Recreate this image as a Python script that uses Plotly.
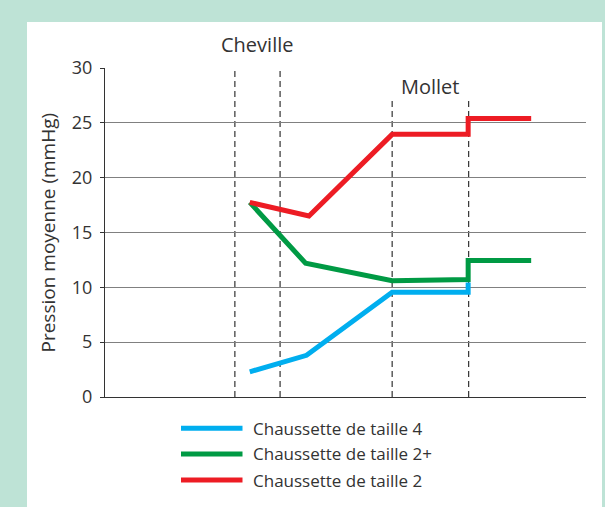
import plotly.graph_objects as go

# ---- data ----
series_names = ["Chaussette de taille 4", "Chaussette de taille 2+", "Chaussette de taille 2"]
series_colors = ["#00AEEF", "#009A44", "#ED1C24"]

blue_x = [3.01, 4.19, 5.97, 7.55, 7.55]
blue_y = [2.3, 3.8, 9.55, 9.55, 10.45]

green_x = [3.01, 4.17, 5.97, 7.55, 7.55, 8.86]
green_y = [17.75, 12.2, 10.6, 10.72, 12.45, 12.45]

red_x = [3.01, 4.24, 5.97, 7.55, 7.55, 8.86]
red_y = [17.75, 16.5, 23.95, 23.95, 25.4, 25.4]

zone_labels = ["Cheville", "Mollet"]
zone_bounds = [(2.70, 3.64), (5.97, 7.56)]
zone_tops = [30, 27.1]

y_ticks = [0, 5, 10, 15, 20, 25, 30]

# ---- layout geometry (pixels) ----
W, H = 605, 507
L, R, T, B = 105, 19, 68, 110
pw, ph = W - L - R, H - T - B

def px_x(p):
    return (p - L) / pw

def px_y(p):
    return (H - B - p) / ph

FONT = "Open Sans, Noto Sans, DejaVu Sans, sans-serif"
TXT = "#333333"

fig = go.Figure()
for xs, ys, name, col in zip([blue_x, green_x, red_x], [blue_y, green_y, red_y],
                             series_names, series_colors):
    fig.add_trace(go.Scatter(x=xs, y=ys, mode="lines", name=name,
                             line=dict(color=col, width=5), showlegend=False))

shapes = []
# white panel over green frame
shapes.append(dict(type="rect", xref="paper", yref="paper",
                   x0=px_x(27), x1=px_x(602), y0=px_y(H + 20), y1=px_y(22),
                   fillcolor="white", line=dict(width=0), layer="below"))
# dashed zone lines
for (a, b), top in zip(zone_bounds, zone_tops):
    for xv in (a, b):
        shapes.append(dict(type="line", xref="x", yref="y", x0=xv, x1=xv, y0=0, y1=top,
                           line=dict(color="#333333", width=1.2, dash="6px,4px"), layer="below"))
# legend lines
leg_y = [428.3, 454, 480]
for yy, col in zip(leg_y, series_colors):
    shapes.append(dict(type="line", xref="paper", yref="paper",
                       x0=px_x(181), x1=px_x(242.5), y0=px_y(yy), y1=px_y(yy),
                       line=dict(color=col, width=5)))

annotations = []
# zone labels
annotations.append(dict(text=zone_labels[0], xref="x", yref="paper",
                        x=sum(zone_bounds[0]) / 2, y=px_y(44), xanchor="center", yanchor="middle",
                        showarrow=False, font=dict(family=FONT, size=20, color=TXT)))
annotations.append(dict(text=zone_labels[1], xref="x", yref="y",
                        x=sum(zone_bounds[1]) / 2, y=28.3, xanchor="center", yanchor="middle",
                        showarrow=False, font=dict(family=FONT, size=20, color=TXT)))
# y title
annotations.append(dict(text="Pression moyenne (mmHg)", xref="paper", yref="paper",
                        x=px_x(47), y=0.5, textangle=-90, xanchor="center", yanchor="middle",
                        showarrow=False, font=dict(family=FONT, size=19, color=TXT)))
# legend texts
for yy, name in zip(leg_y, series_names):
    annotations.append(dict(text=name, xref="paper", yref="paper",
                            x=px_x(251), y=px_y(yy), xanchor="left", yanchor="middle",
                            showarrow=False, font=dict(family=FONT, size=17, color=TXT)))

fig.update_layout(
    width=W, height=H,
    margin=dict(l=L, r=R, t=T, b=B, pad=0),
    paper_bgcolor="#BEE3D6",
    plot_bgcolor="rgba(0,0,0,0)",
    shapes=shapes,
    annotations=annotations,
    showlegend=False,
    xaxis=dict(range=[0, 10], showgrid=False, zeroline=False, showticklabels=False,
               ticks="", showline=True, linecolor="#333333", linewidth=1, fixedrange=True),
    yaxis=dict(range=[0, 30], tickvals=y_ticks, showgrid=True, gridcolor="#808080", gridwidth=1,
               zeroline=False, showline=True, linecolor="#333333", linewidth=1,
               ticks="outside", ticklen=4, tickcolor="#333333", ticklabelstandoff=4,
               tickfont=dict(family=FONT, size=18, color=TXT), fixedrange=True),
)

fig.write_html("out.html", config={"displayModeBar": False},
               post_script="document.body.style.margin='0';document.body.style.overflow='hidden';")
